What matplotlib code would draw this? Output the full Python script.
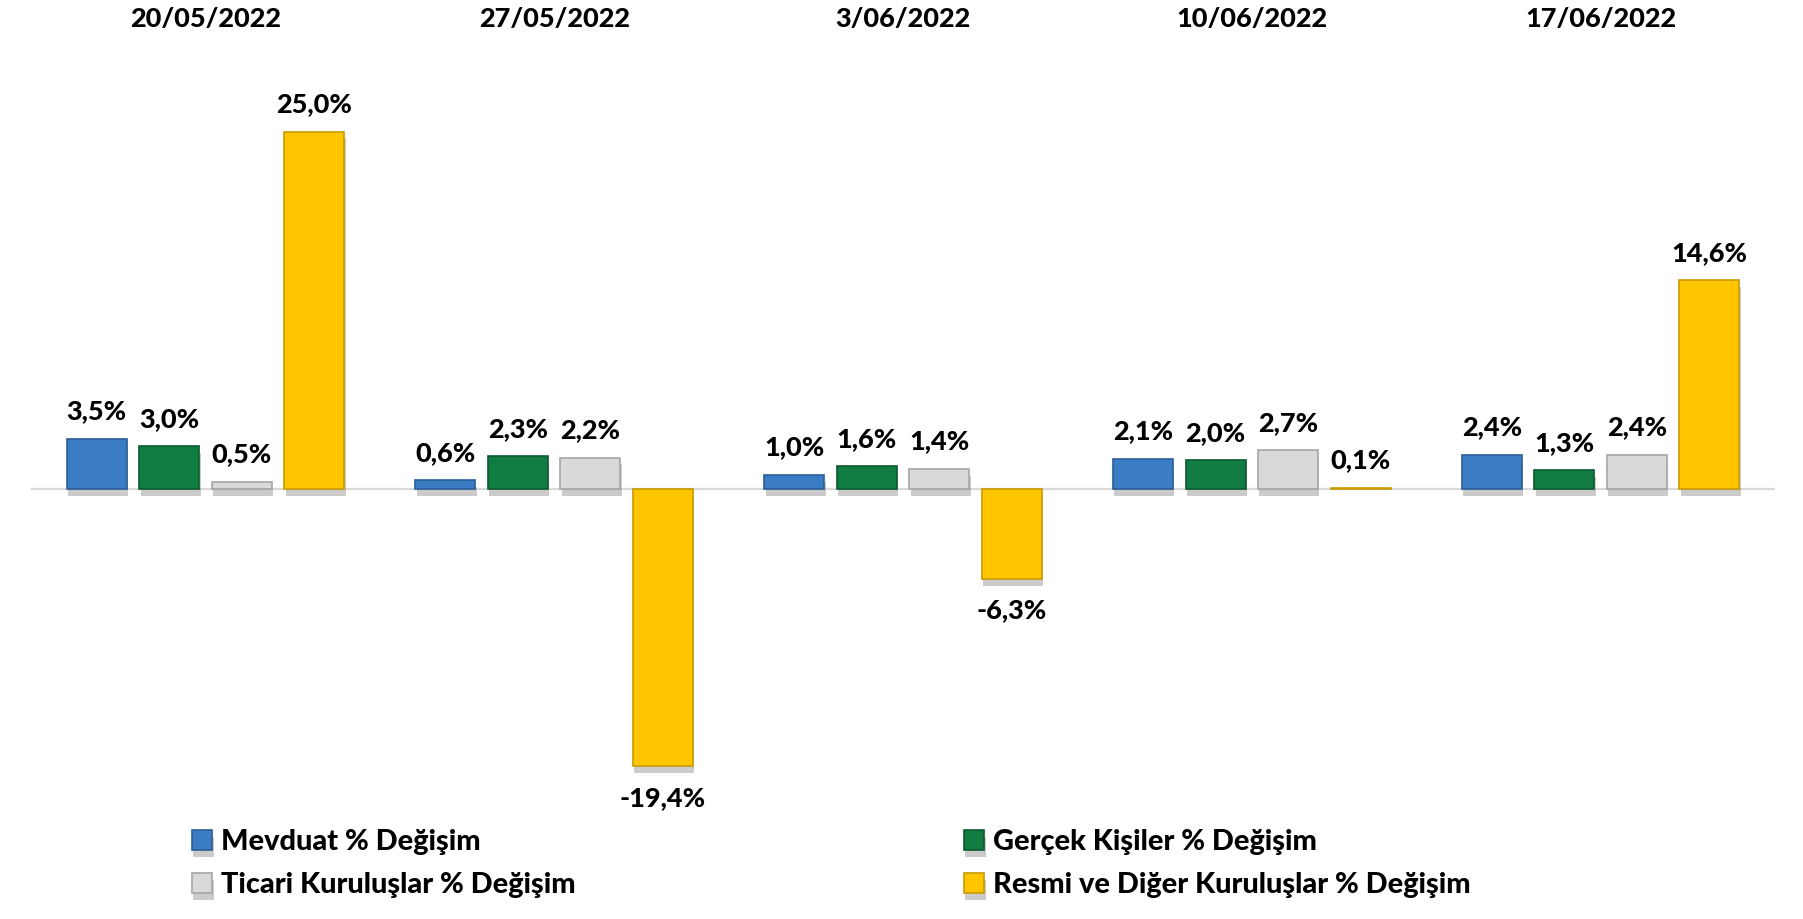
import os
import matplotlib
matplotlib.use("Agg")
import matplotlib.pyplot as plt
import matplotlib.patheffects as pe
from matplotlib.transforms import blended_transform_factory
from matplotlib import font_manager
from matplotlib.font_manager import FontProperties
import numpy as np

dates = ['20/05/2022', '27/05/2022', '3/06/2022', '10/06/2022', '17/06/2022']
series_names = ['Mevduat % Değişim', 'Gerçek Kişiler % Değişim',
                'Ticari Kuruluşlar % Değişim', 'Resmi ve Diğer Kuruluşlar % Değişim']
mevduat = [3.5, 0.6, 1.0, 2.1, 2.4]
gercek = [3.0, 2.3, 1.6, 2.0, 1.3]
ticari = [0.5, 2.2, 1.4, 2.7, 2.4]
resmi = [25.0, -19.4, -6.3, 0.1, 14.6]

face_colors = ['#3A7DC4', '#117C42', '#D9D9D9', '#FFC600']
edge_colors = ['#2A5E96', '#0B5A2F', '#A6A6A6', '#C89A00']

FS = 19.5
FS_LEG = 20.8
font_file = None
for want in ['lato-heavy.ttf', 'lato-extrabold.ttf', 'lato-bold.ttf']:
    for f in font_manager.fontManager.ttflist:
        if os.path.basename(f.fname).lower() == want:
            font_file = f.fname
            break
    if font_file:
        break
if font_file:
    FP = FontProperties(fname=font_file, size=FS)
    FPL = FontProperties(fname=font_file, size=FS_LEG)
else:
    FP = FontProperties(family='DejaVu Sans', weight='bold', size=FS)
    FPL = FontProperties(family='DejaVu Sans', weight='bold', size=FS_LEG)

W, H = 1803, 919
fig = plt.figure(figsize=(W / 100, H / 100), dpi=100)

ymin, ymax = -22.0, 28.0
ppu = 14.3
zero_px = 489
top_px = zero_px - ymax * ppu
bot_px = zero_px - ymin * ppu
left_px, right_px = 31, 1775
ax = fig.add_axes([left_px / W, (H - bot_px) / H, (right_px - left_px) / W, (bot_px - top_px) / H])
ax.set_xlim(-0.5, 4.5)
ax.set_ylim(ymin, ymax)
for s in ax.spines.values():
    s.set_visible(False)
ax.set_xticks([])
ax.set_yticks([])
ax.axhline(0, color='#D9D9D9', lw=1.6, zorder=1)

x = np.arange(len(dates))
step = 0.208
width = 0.172
all_series = [mevduat, gercek, ticari, resmi]
shadow = [pe.SimplePatchShadow(offset=(1, -5), shadow_rgbFace='#555555', alpha=0.3), pe.Normal()]
handles = []
for i, vals in enumerate(all_series):
    off = (i - 1.5) * step
    bars = ax.bar(x + off, vals, width, color=face_colors[i], edgecolor=edge_colors[i],
                  linewidth=1.2, zorder=3, label=series_names[i])
    for b, v in zip(bars, vals):
        if abs(v) > 0.3:
            b.set_path_effects(shadow)
    handles.append(bars)
    for xi, v in zip(x, vals):
        lab = f"{v:.1f}%".replace('.', ',')
        if v >= 0:
            ax.annotate(lab, (xi + off, v), xytext=(0, 14), textcoords='offset points',
                        ha='center', va='baseline', fontproperties=FP, zorder=5)
        else:
            ax.annotate(lab, (xi + off, v), xytext=(0, -14), textcoords='offset points',
                        ha='center', va='top', fontproperties=FP, zorder=5)

trans = blended_transform_factory(ax.transData, fig.transFigure)
for xi, d in zip(x, dates):
    ax.text(xi, 1 - 19 / H, d, transform=trans, ha='center', va='center',
            fontproperties=FP)

leg_kw = dict(frameon=False, handlelength=0.7, handleheight=0.7,
              handletextpad=0.3, labelspacing=0.6, borderpad=0, borderaxespad=0,
              loc='upper left', prop=FPL)
leg1 = fig.legend([handles[0], handles[2]], [series_names[0], series_names[2]],
                  bbox_to_anchor=(192 / W, 1 - 829 / H), **leg_kw)
leg2 = fig.legend([handles[1], handles[3]], [series_names[1], series_names[3]],
                  bbox_to_anchor=(964 / W, 1 - 829 / H), **leg_kw)

fig.savefig('out.png', dpi=100)
